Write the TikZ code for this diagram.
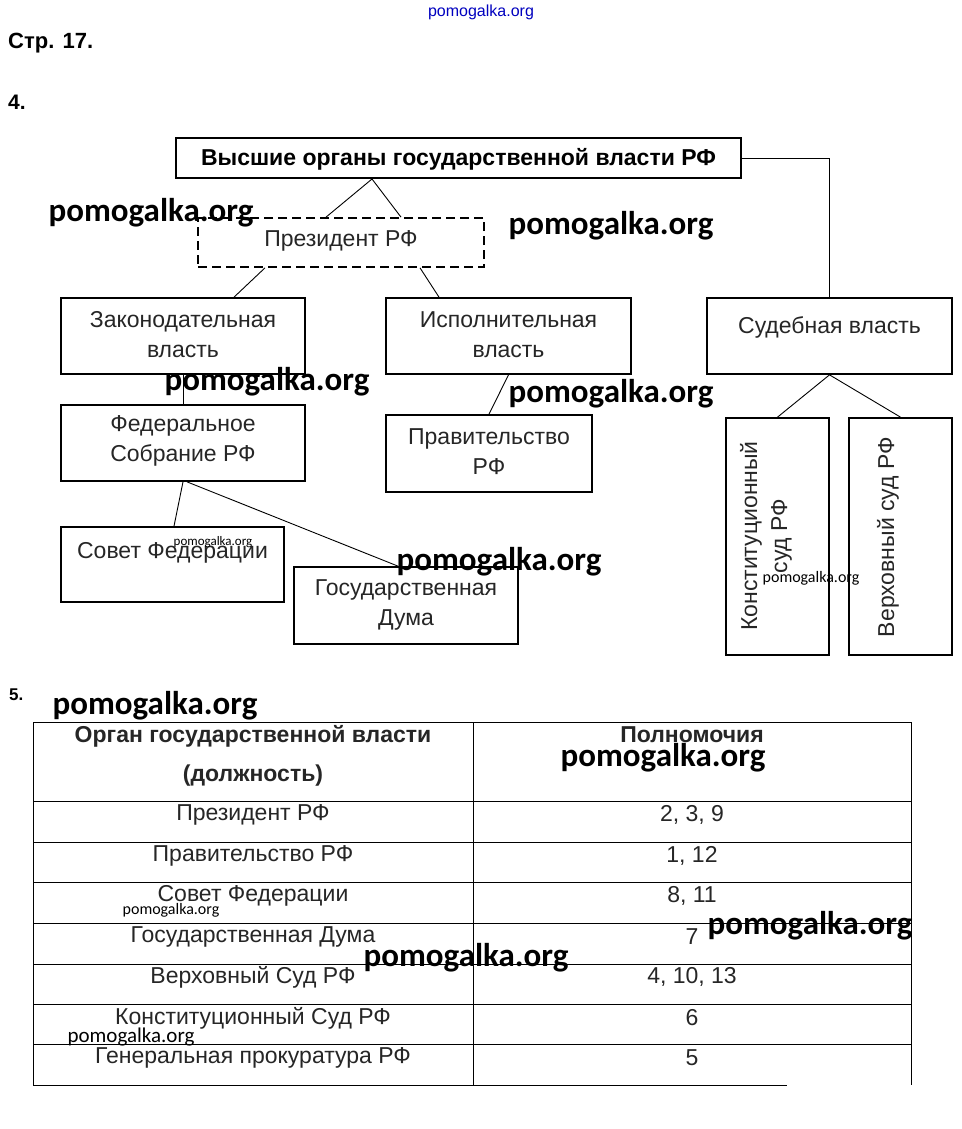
\documentclass[tikz,border=0pt]{standalone}
\usepackage{fontspec}
\setmainfont{Liberation Sans}
\newfontfamily\wmfont{Carlito}
\begin{document}
\begin{tikzpicture}[x=1pt,y=-1pt,
  txt/.style={font=\fontsize{23}{30}\selectfont, inner sep=0pt, align=center},
  boxA/.style={draw, line width=1.7pt, inner sep=0pt},
  conn/.style={line width=0.9pt},
  wmbig/.style={font=\wmfont\bfseries\fontsize{33}{33}\selectfont, inner sep=0pt},
  wmsmall/.style={font=\wmfont\fontsize{#1}{#1}\selectfont, inner sep=0pt},
  grid/.style={line width=0.8pt},
  hdr/.style={font=\bfseries\fontsize{23}{26}\selectfont, inner sep=0pt},
]
\useasboundingbox[fill=white] (0,0) rectangle (961,1129);

% headings
\node[font=\fontsize{16}{16}\selectfont, text=blue!75!black, inner sep=0pt] (wm0) at (481,12) {pomogalka.org};
\node[font=\bfseries\fontsize{22}{22}\selectfont, anchor=west, inner sep=0pt] (p17) at (8,43) {Стр. 17.};
\node[font=\bfseries\fontsize{21}{21}\selectfont, anchor=west, inner sep=0pt] (n4) at (8,102) {4.};
\node[font=\bfseries\fontsize{17}{17}\selectfont, anchor=west, inner sep=0pt] (n5) at (9,695) {5.};

% diagram boxes
\node[boxA, line width=2pt, minimum width=565pt, minimum height=40pt] (top) at (458.5,158) {};
\node[txt, font=\bfseries\fontsize{23}{26}\selectfont] (topt) at (458.5,159) {Высшие органы государственной власти РФ};

\node[draw, dashed, dash pattern=on 9pt off 5pt, line width=1.7pt, minimum width=286pt, minimum height=49pt, inner sep=0pt] (pres) at (341,242.5) {};
\node[txt, text=black!85] (prest) at (341,241) {Президент РФ};

\node[boxA, minimum width=244pt, minimum height=76pt] (zak) at (183,336) {};
\node[txt, text=black!85] (zakt) at (183,335) {Законодательная\\власть};

\node[boxA, minimum width=245pt, minimum height=76pt] (isp) at (508.5,336) {};
\node[txt, text=black!85] (ispt) at (508.5,335) {Исполнительная\\власть};

\node[boxA, minimum width=245pt, minimum height=76pt] (sud) at (829.5,336) {};
\node[txt, text=black!85] (sudt) at (829.5,327) {Судебная власть};

\node[boxA, minimum width=244pt, minimum height=76pt] (fed) at (183,443) {};
\node[txt, text=black!85] (fedt) at (183,441) {Федеральное\\Собрание РФ};

\node[boxA, minimum width=206pt, minimum height=77pt] (prav) at (489,453.5) {};
\node[txt, text=black!85] (pravt) at (489,451.5) {Правительство\\РФ};

\node[boxA, minimum width=103pt, minimum height=237pt] (konst) at (777.5,536.5) {};
\node[txt, rotate=90, text=black!85] (konstt) at (766,536) {Конституционный\\суд РФ};

\node[boxA, minimum width=103pt, minimum height=237pt] (verh) at (900.5,536.5) {};
\node[txt, rotate=90, text=black!85] (verht) at (888,537) {Верховный суд РФ};

\node[boxA, minimum width=223pt, minimum height=75pt] (sovet) at (172.5,564.5) {};
\node[txt, text=black!85] (sovett) at (172.5,553) {Совет Федерации};

\node[boxA, minimum width=224pt, minimum height=77pt] (duma) at (406,605.5) {};
\node[txt, text=black!85] (dumat) at (406,604.5) {Государственная\\Дума};

% connectors
\draw[conn] ([xshift=-86.5pt]top.south) -- ([xshift=-15pt]pres.north);
\draw[conn] ([xshift=-86.5pt]top.south) -- ([xshift=60pt]pres.north);
\draw[conn] (top.east) -| (sud.north);
\draw[conn] ([xshift=-76pt]pres.south) -- ([xshift=51pt]zak.north);
\draw[conn] ([xshift=79pt]pres.south) -- ([xshift=-69.5pt]isp.north);
\draw[conn] (zak.south) -- (fed.north);
\draw[conn] (isp.south) -- (prav.north);
\draw[conn] (sud.south) -- (konst.north);
\draw[conn] (sud.south) -- (verh.north);
\draw[conn] (fed.south) -- ([xshift=1.5pt]sovet.north);
\draw[conn] ([xshift=4pt]fed.south) -- ([xshift=-8pt]duma.north);

% table
\coordinate (tl) at (33,722);
\coordinate (tm) at (473,722);
\coordinate (tr) at (911,722);
\draw[grid] (33,722) -- (911,722);
\foreach \yy in {801,842,882,923,964,1004,1044} {
  \draw[grid] (33,\yy) -- (911,\yy);
}
\draw[grid] (33,1085) -- (787,1085);
\draw[grid] (tl) -- (33,1085);
\draw[grid] (tm) -- (473,1085);
\draw[grid] (tr) -- (911,1085);

\node[hdr, text=black!85] (h1a) at (253,736) {Орган государственной власти};
\node[hdr, text=black!85] (h1b) at (253,776) {(должность)};
\node[hdr, text=black!85] (h2) at (692,735) {Полномочия};

\node[txt, text=black!85] (r1a) at (253,815) {Президент РФ};
\node[txt, text=black!85] (r1b) at (692,815) {2, 3, 9};
\node[txt, text=black!85] (r2a) at (253,856) {Правительство РФ};
\node[txt, text=black!85] (r2b) at (692,856) {1, 12};
\node[txt, text=black!85] (r3a) at (253,896) {Совет Федерации};
\node[txt, text=black!85] (r3b) at (692,896) {8, 11};
\node[txt, text=black!85] (r4a) at (253,937) {Государственная Дума};
\node[txt, text=black!85] (r4b) at (692,937) {7};
\node[txt, text=black!85] (r5a) at (253,977) {Верховный Суд РФ};
\node[txt, text=black!85] (r5b) at (692,977) {4, 10, 13};
\node[txt, text=black!85] (r6a) at (253,1018) {Конституционный Суд РФ};
\node[txt, text=black!85] (r6b) at (692,1018) {6};
\node[txt, text=black!85] (r7a) at (253,1058) {Генеральная прокуратура РФ};
\node[txt, text=black!85] (r7b) at (692,1058) {5};

% watermarks
\node[wmbig] (wm1) at (151,213) {pomogalka.org};
\node[wmbig] (wm2) at (611,226) {pomogalka.org};
\node[wmbig] (wm3) at (267,382) {pomogalka.org};
\node[wmbig] (wm4) at (611,394) {pomogalka.org};
\node[wmbig] (wm5) at (499,562) {pomogalka.org};
\node[wmbig] (wm6) at (155,706) {pomogalka.org};
\node[wmbig] (wm7) at (663,758) {pomogalka.org};
\node[wmbig] (wm8) at (810,926) {pomogalka.org};
\node[wmbig] (wm9) at (466,958) {pomogalka.org};
\node[wmsmall=13] (wm10) at (213,542) {pomogalka.org};
\node[wmsmall=16] (wm11) at (811,578) {pomogalka.org};
\node[wmsmall=16] (wm12) at (171,910) {pomogalka.org};
\node[wmsmall=21] (wm13) at (131,1037) {pomogalka.org};
\end{tikzpicture}
\end{document}
